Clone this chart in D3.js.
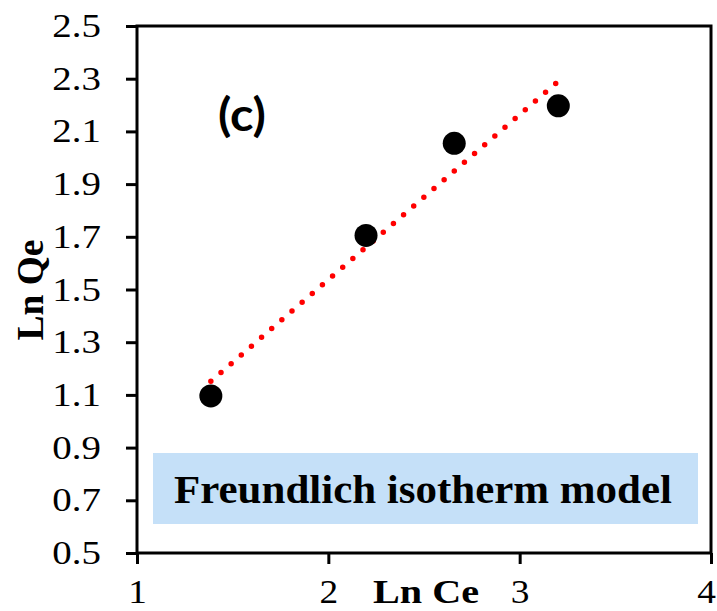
<!DOCTYPE html>
<html>
<head>
<meta charset="utf-8">
<script src="https://cdn.jsdelivr.net/npm/d3@7"></script>
<style>
  html, body { margin: 0; padding: 0; background: #fff; }
  svg { display: block; }
</style>
</head>
<body>
<svg id="chart" width="717" height="611"></svg>
<script>
// Freundlich isotherm: ln Ce vs ln Qe
const lnCe = [1.386, 2.197, 2.658, 3.202];
const lnQe = [1.096, 1.705, 2.055, 2.197];

const xTicks = [1, 2, 3, 4];
const yTicks = [0.5, 0.7, 0.9, 1.1, 1.3, 1.5, 1.7, 1.9, 2.1, 2.3, 2.5];

const xTitle = "Ln Ce";
const yTitle = "Ln Qe";
const panelLabel = "(c)";
const modelLabel = "Freundlich isotherm model";

const svg = d3.select("#chart");
const m = { left: 137, right: 711, top: 26, bottom: 553 };

const x = d3.scaleLinear().domain([1, 4]).range([m.left, m.right]);
const y = d3.scaleLinear().domain([0.5, 2.5]).range([m.bottom, m.top]);

const serif = "'Liberation Serif', 'Times New Roman', serif";

// Widen a text run horizontally by a factor (or to a fixed length)
function widen(sel, factor, fixed) {
  sel.each(function () {
    const len = fixed != null ? fixed : this.getComputedTextLength() * factor;
    d3.select(this).attr("textLength", len).attr("lengthAdjust", "spacingAndGlyphs");
  });
}

// Least-squares trend line over the data range
const mx = d3.mean(lnCe), my = d3.mean(lnQe);
const slope = d3.sum(lnCe.map((v, i) => (v - mx) * (lnQe[i] - my))) /
              d3.sum(lnCe.map(v => (v - mx) ** 2));
const intercept = my - slope * mx;
const [x0, x1] = d3.extent(lnCe);

// Model label box
svg.append("rect")
  .attr("x", 153).attr("y", 453)
  .attr("width", 545).attr("height", 71)
  .attr("fill", "#c5e0f8");
const model = svg.append("text")
  .attr("x", 423).attr("y", 503)
  .attr("text-anchor", "middle")
  .attr("font-family", serif)
  .attr("font-weight", "bold")
  .attr("font-size", 40)
  .attr("fill", "#000")
  .text(modelLabel);
widen(model, null, 498);

// Axes with outward ticks
const xAxis = d3.axisBottom(x).tickValues(xTicks).tickSize(11)
  .tickFormat(d3.format("d"));
const yAxis = d3.axisLeft(y).tickValues(yTicks).tickSize(11).tickPadding(25)
  .tickFormat(d3.format(".1f"));

const gx = svg.append("g").attr("transform", `translate(0,${m.bottom})`).call(xAxis);
const gy = svg.append("g").attr("transform", `translate(${m.left},0)`).call(yAxis);

[gx, gy].forEach(g => {
  g.select(".domain").remove();
  g.selectAll(".tick line").attr("stroke", "#000").attr("stroke-width", 3);
  g.selectAll(".tick text")
    .attr("font-family", serif)
    .attr("fill", "#000");
});
gx.selectAll(".tick text").attr("font-size", 34).attr("y", 50).attr("dy", 0);
gy.selectAll(".tick text").attr("font-size", 33);
widen(gx.selectAll(".tick text"), 1.1);
widen(gy.selectAll(".tick text"), 1.18);
gx.selectAll(".tick").filter(d => d === 4).select("text").attr("x", -5);

// Plot frame
svg.append("rect")
  .attr("x", m.left).attr("y", m.top)
  .attr("width", m.right - m.left).attr("height", m.bottom - m.top)
  .attr("fill", "none")
  .attr("stroke", "#000")
  .attr("stroke-width", 3);

// Trend line (dotted red)
svg.append("line")
  .attr("x1", x(x0)).attr("y1", y(intercept + slope * x0))
  .attr("x2", x(x1)).attr("y2", y(intercept + slope * x1))
  .attr("stroke", "#ff0000")
  .attr("stroke-width", 5.5)
  .attr("stroke-linecap", "round")
  .attr("stroke-dasharray", "0 13.4");

// Data points
svg.append("g").selectAll("circle")
  .data(lnCe)
  .join("circle")
  .attr("cx", d => x(d))
  .attr("cy", (d, i) => y(lnQe[i]))
  .attr("r", 11.5)
  .attr("fill", "#000");

// Panel label
const panel = svg.append("text")
  .attr("x", 218).attr("y", 131)
  .attr("font-family", "Lato, 'Open Sans', sans-serif")
  .attr("font-weight", "bold")
  .attr("font-size", 45)
  .attr("fill", "#000")
  .text(panelLabel);
widen(panel, null, 48);

// Axis titles
const xt = svg.append("text")
  .attr("x", 426).attr("y", 603)
  .attr("text-anchor", "middle")
  .attr("font-family", serif)
  .attr("font-weight", "bold")
  .attr("font-size", 34)
  .attr("fill", "#000")
  .text(xTitle);
widen(xt, null, 106);

const yt = svg.append("text")
  .attr("transform", `translate(43,290) rotate(-90)`)
  .attr("text-anchor", "middle")
  .attr("font-family", serif)
  .attr("font-weight", "bold")
  .attr("font-size", 37)
  .attr("fill", "#000")
  .text(yTitle);
widen(yt, null, 101);
</script>
</body>
</html>
